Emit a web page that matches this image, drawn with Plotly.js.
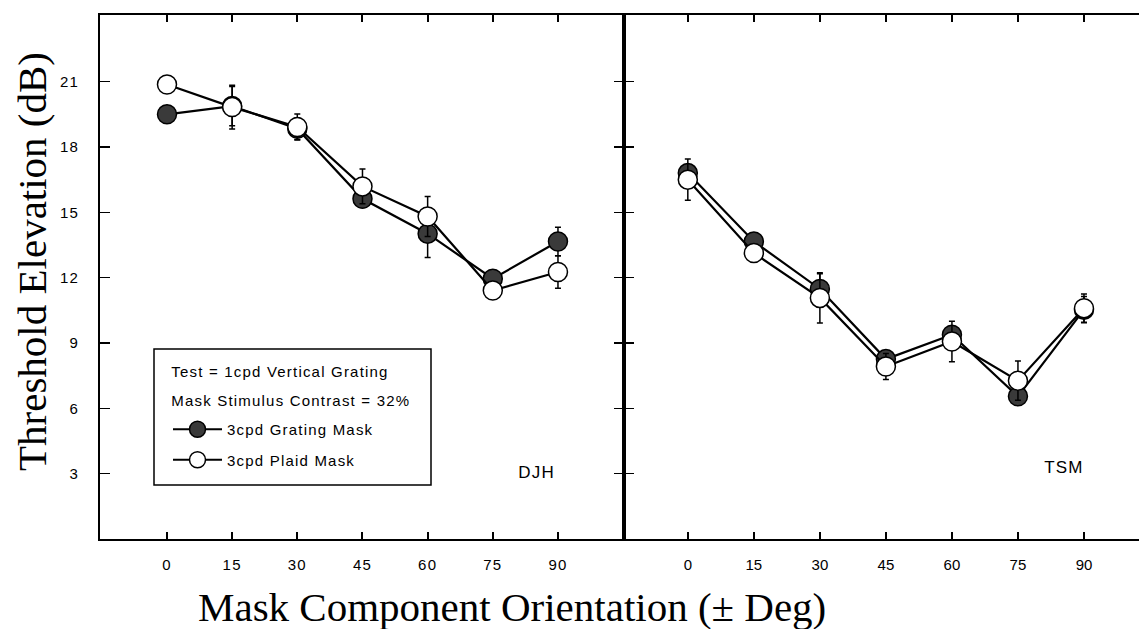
<!DOCTYPE html>
<html>
<head>
<meta charset="utf-8">
<script src="https://cdn.plot.ly/plotly-3.0.1.min.js"></script>
<style>
  html, body { margin: 0; padding: 0; background: #fff; }
  #chart { width: 1139px; height: 629px; }
  .xtick text, .ytick text, .legendtext, .annotation-text.sp { letter-spacing: 1.2px; }
</style>
</head>
<body>
<div id="chart"></div>
<script>
// ---- data ----
const angles = [0, 15, 30, 45, 60, 75, 90];
const angleTicks = ['0', '15', '30', '45', '60', '75', '90'];
const yTickVals = [3, 6, 9, 12, 15, 18, 21];

// DJH panel
const djhGrating    = [19.5, 19.88, 18.84, 15.62, 14.02, 11.95, 13.66];
const djhGratingErr = [0.3, 0.9, 0.5, 0.4, 1.1, 0.3, 0.65];
const djhPlaid      = [20.87, 19.83, 18.92, 16.19, 14.81, 11.41, 12.26];
const djhPlaidErr   = [0.2, 1.0, 0.6, 0.8, 0.92, 0.3, 0.75];

// TSM panel
const tsmGrating    = [16.8, 13.66, 11.48, 8.26, 9.38, 6.55, 10.53];
const tsmGratingErr = [0.25, 0.35, 0.7, 0.3, 0.3, 0.3, 0.6];
const tsmPlaid      = [16.5, 13.13, 11.07, 7.92, 9.07, 7.27, 10.6];
const tsmPlaidErr   = [0.95, 0.3, 1.15, 0.6, 0.93, 0.9, 0.65];

const seriesNames = ['3cpd Grating Mask', '3cpd Plaid Mask'];
const panelLabels = ['DJH', 'TSM'];
const legendHeader = ['Test = 1cpd Vertical Grating', 'Mask Stimulus Contrast = 32%'];
const xTitle = 'Mask Component Orientation (\u00B1 Deg)';
const yTitle = 'Threshold Elevation (dB)';

// ---- styles ----
const sans = 'Liberation Sans, Arial, sans-serif';
const serif = 'Liberation Serif, Times New Roman, serif';
const gratingMarker = {symbol: 'circle', size: 19, color: '#3a3a3a', line: {color: '#000', width: 1.5}};
const plaidMarker = {symbol: 'circle', size: 19, color: '#ffffff', line: {color: '#000', width: 1.5}};
const lineStyle = {color: '#000', width: 2.2};
function err(arr) { return {type: 'data', array: arr, visible: true, color: '#000', thickness: 1.5, width: 3}; }

const traces = [
  {x: angles, y: djhGrating, error_y: err(djhGratingErr), mode: 'lines+markers', name: seriesNames[0],
   marker: gratingMarker, line: lineStyle, xaxis: 'x', yaxis: 'y', legendgroup: 'g', showlegend: true},
  {x: angles, y: djhPlaid, error_y: err(djhPlaidErr), mode: 'lines+markers', name: seriesNames[1],
   marker: plaidMarker, line: lineStyle, xaxis: 'x', yaxis: 'y', legendgroup: 'p', showlegend: true},
  {x: angles, y: tsmGrating, error_y: err(tsmGratingErr), mode: 'lines+markers', name: seriesNames[0],
   marker: gratingMarker, line: lineStyle, xaxis: 'x2', yaxis: 'y2', legendgroup: 'g', showlegend: false},
  {x: angles, y: tsmPlaid, error_y: err(tsmPlaidErr), mode: 'lines+markers', name: seriesNames[1],
   marker: plaidMarker, line: lineStyle, xaxis: 'x2', yaxis: 'y2', legendgroup: 'p', showlegend: false}
];

const W = 1139, H = 629, L = 100, R = 0, T = 15, B = 90;
const pw = W - L - R, ph = H - T - B;
const split = (624 - L) / pw;
const px = v => (v - L) / pw;       // pixel x -> paper
const py = v => (H - B - v) / ph;   // pixel y -> paper

const tickFont = {family: sans, size: 15, color: '#000'};
const xCommon = {
  tickvals: angles, ticktext: angleTicks, ticks: 'inside', ticklen: 7, tickwidth: 2, tickcolor: '#000',
  showline: true, linewidth: 2, linecolor: '#000', mirror: 'allticks', showgrid: false, zeroline: false,
  tickfont: tickFont, ticklabelstandoff: 11
};
const yCommon = {
  range: [0, 24.06], tickvals: yTickVals, ticks: 'inside', ticklen: 10, tickwidth: 1.5, tickcolor: '#000',
  showline: true, linewidth: 2, linecolor: '#000', showgrid: false, zeroline: false,
  tickfont: tickFont, ticklabelstandoff: 16
};

const layout = {
  width: W, height: H,
  margin: {l: L, r: R, t: T, b: B},
  paper_bgcolor: '#fff', plot_bgcolor: '#fff',
  showlegend: true,
  xaxis: Object.assign({}, xCommon, {domain: [0, split], range: [-15.42, 105.2], anchor: 'y'}),
  yaxis: Object.assign({}, yCommon, {domain: [0, 1], anchor: 'x', mirror: 'allticks'}),
  xaxis2: Object.assign({}, xCommon, {domain: [split, 1], range: [-14.5, 102.5], anchor: 'y2'}),
  yaxis2: Object.assign({}, yCommon, {domain: [0, 1], anchor: 'x2', mirror: false, showticklabels: false}),
  legend: {
    x: px(168), y: py(413), xanchor: 'left', yanchor: 'top',
    bgcolor: 'rgba(0,0,0,0)', borderwidth: 0,
    font: {family: sans, size: 15, color: '#000'},
    traceorder: 'grouped', tracegroupgap: 8, itemwidth: 49
  },
  shapes: [
    {type: 'rect', xref: 'paper', yref: 'paper', x0: px(154), x1: px(431), y0: py(485), y1: py(349),
     line: {color: '#000', width: 1.5}, fillcolor: 'rgba(0,0,0,0)'}
  ],
  annotations: [
    {text: legendHeader[0], xref: 'paper', yref: 'paper', x: px(280), y: py(371), xanchor: 'center', yanchor: 'middle',
     showarrow: false, font: {family: sans, size: 15, color: '#000'}},
    {text: legendHeader[1], xref: 'paper', yref: 'paper', x: px(290.5), y: py(400), xanchor: 'center', yanchor: 'middle',
     showarrow: false, font: {family: sans, size: 15, color: '#000'}},
    {text: panelLabels[0], xref: 'paper', yref: 'paper', x: px(536), y: py(472), xanchor: 'center', yanchor: 'middle',
     showarrow: false, font: {family: sans, size: 17, color: '#000'}},
    {text: panelLabels[1], xref: 'paper', yref: 'paper', x: px(1064), y: py(467), xanchor: 'center', yanchor: 'middle',
     showarrow: false, font: {family: sans, size: 17, color: '#000'}},
    {text: xTitle, xref: 'paper', yref: 'paper', x: px(512), y: py(607), xanchor: 'center', yanchor: 'middle',
     showarrow: false, font: {family: serif, size: 41, color: '#000'}},
    {text: yTitle, xref: 'paper', yref: 'paper', x: px(32), y: py(262), xanchor: 'center', yanchor: 'middle',
     textangle: -90, showarrow: false, font: {family: serif, size: 41, color: '#000'}}
  ]
};

Plotly.newPlot('chart', traces, layout, {displayModeBar: false, staticPlot: true}).then(() => {
  document.querySelectorAll('.annotation-text').forEach((t, i) => { if (i < 4) t.classList.add('sp'); });
});
</script>
</body>
</html>
